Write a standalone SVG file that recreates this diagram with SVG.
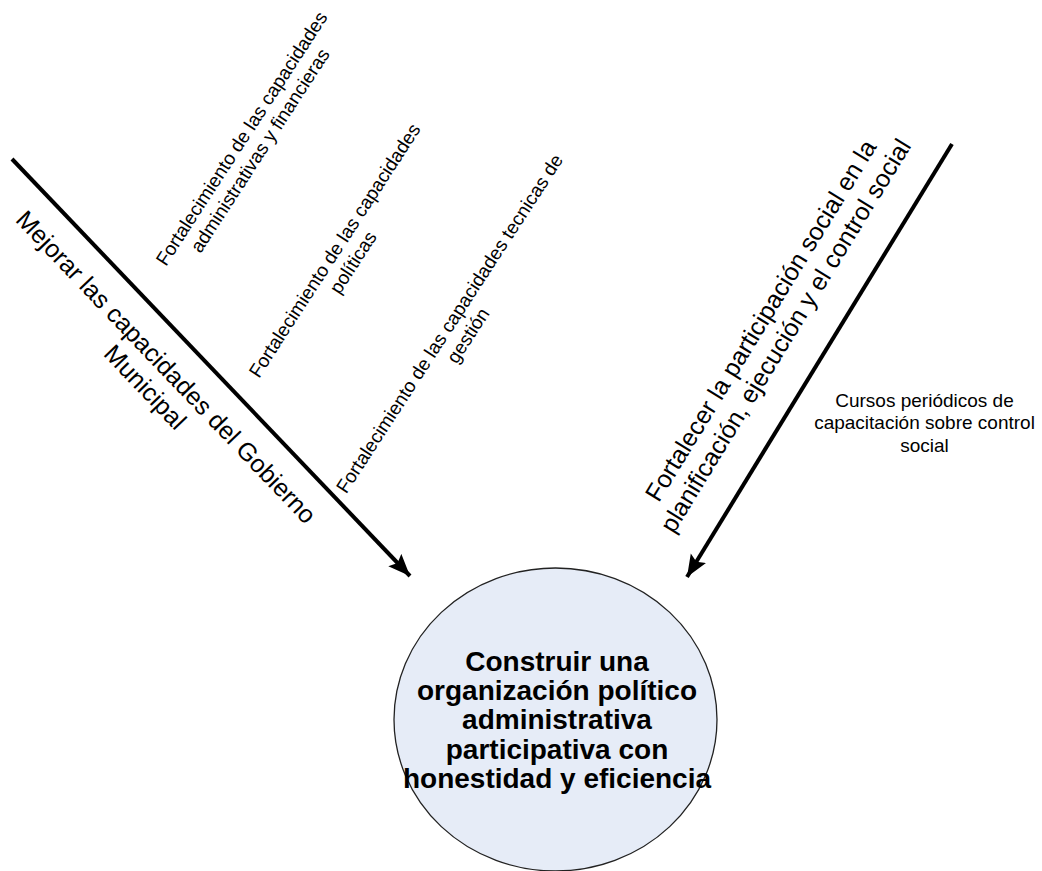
<svg xmlns="http://www.w3.org/2000/svg" width="1042" height="871" viewBox="0 0 1042 871">
<style>
.t{font-family:"Liberation Sans",Arial,sans-serif;fill:#000;text-anchor:middle}
.s{font-size:19px}
.m{font-size:25px}
.b{font-size:28px;font-weight:bold}
.c{stroke:#000;stroke-width:4;fill:none;marker-end:url(#ah)}
</style>
<defs>
<marker id="ah" markerUnits="userSpaceOnUse" markerWidth="26" markerHeight="20" refX="22" refY="9" orient="auto">
<path d="M0,0 L22,9 L0,18 L4,9 z" fill="#000"/>
</marker>
</defs>
<rect width="1042" height="871" fill="#fff"/>
<g id="connectors">
<line class="c" x1="12" y1="159" x2="410" y2="576"/>
<line class="c" x1="952" y1="144" x2="687" y2="577"/>
</g>
<g id="goal">
<ellipse cx="555.5" cy="719.5" rx="161.5" ry="151.5" fill="#E6ECF7" stroke="#222" stroke-width="1.3"/>
<text class="t b" x="557" y="670.7">Construir una<tspan x="557" dy="29.3">organización político</tspan><tspan x="557" dy="29.3">administrativa</tspan><tspan x="557" dy="29.3">participativa con</tspan><tspan x="557" dy="29.3">honestidad y eficiencia</tspan></text>
</g>
<g id="branch-left">
<text class="t m" transform="translate(160,373) rotate(46.3)" x="0" y="0">Mejorar las capacidades del Gobierno<tspan x="0" dy="29">Municipal</tspan></text>
</g>
<g id="sub-1">
<text class="t s" transform="translate(247,142) rotate(-57)" x="0" y="0">Fortalecimiento de las capacidades<tspan x="0" dy="22">administrativas y financieras</tspan></text>
</g>
<g id="sub-2">
<text class="t s" transform="translate(340,254) rotate(-57)" x="0" y="0">Fortalecimiento de las capacidades<tspan x="0" dy="22">políticas</tspan></text>
</g>
<g id="sub-3">
<text class="t s" transform="translate(455,327) rotate(-57)" x="0" y="0">Fortalecimiento de las capacidades tecnicas de<tspan x="0" dy="22">gestión</tspan></text>
</g>
<g id="branch-right">
<text class="t m" transform="translate(768,325) rotate(-58.5)" x="0" y="0">Fortalecer la participación social en la<tspan x="0" dy="29">planificación, ejecución y el control social</tspan></text>
</g>
<g id="sub-4">
<text class="t s" x="924.5" y="406.7">Cursos periódicos de<tspan x="924.5" dy="22.5">capacitación sobre control</tspan><tspan x="924.5" dy="22.5">social</tspan></text>
</g>
</svg>
